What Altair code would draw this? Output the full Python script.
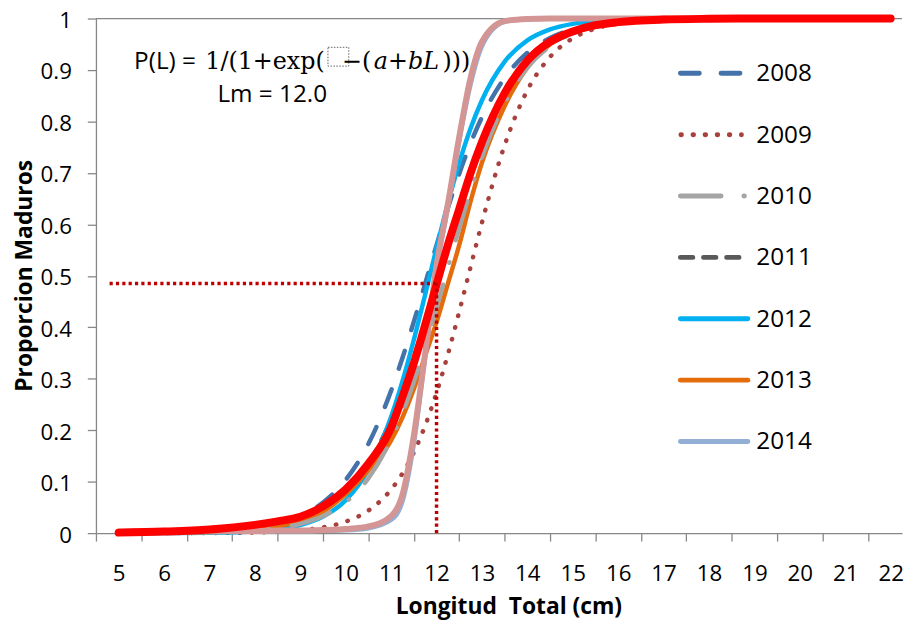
import altair as alt
import pandas as pd

# Longitud total (cm) sample positions
L = [5, 6, 7, 8, 8.5, 9, 9.5, 10, 10.5, 11, 11.25, 11.5, 11.75, 12, 12.25,
     12.5, 12.75, 13, 13.5, 14, 14.5, 15, 15.5, 16, 17, 18, 19, 20, 21, 22]

p2008 = [0.0003, 0.0009, 0.0031, 0.0104, 0.0187, 0.0336, 0.0595, 0.1034, 0.1736, 0.2769,
         0.3407, 0.411, 0.485, 0.5597, 0.6318, 0.6985, 0.7577, 0.8085, 0.8849, 0.9334,
         0.9623, 0.979, 0.9883, 0.9936, 0.998, 0.9994, 0.9998, 1, 1, 1]
p2009 = [0.0000, 0.0001, 0.0003, 0.0014, 0.0028, 0.0056, 0.0112, 0.0223, 0.0439, 0.0847,
         0.1161, 0.1571, 0.2092, 0.2729, 0.3475, 0.4305, 0.5175, 0.6035, 0.754, 0.8606,
         0.9255, 0.9616, 0.9806, 0.9903, 0.9976, 0.9994, 0.9999, 1, 1, 1]
p2010 = [0.0001, 0.0004, 0.0015, 0.0052, 0.0097, 0.018, 0.0331, 0.0601, 0.1067, 0.1824,
         0.2337, 0.2943, 0.363, 0.4378, 0.5156, 0.5927, 0.6654, 0.7311, 0.8355, 0.9047,
         0.9466, 0.9707, 0.9841, 0.9914, 0.9975, 0.9993, 0.9998, 1, 1, 1]
p2011 = [0.0002, 0.0007, 0.0023, 0.0077, 0.0139, 0.0251, 0.0448, 0.0787, 0.1347, 0.221,
         0.2769, 0.3407, 0.411, 0.485, 0.5597, 0.6318, 0.6985, 0.7577, 0.8507, 0.9121,
         0.9498, 0.9718, 0.9843, 0.9913, 0.9974, 0.9992, 0.9998, 1, 1, 1]
p2012 = [0.0001, 0.0002, 0.0009, 0.0038, 0.0077, 0.0158, 0.032, 0.064, 0.124, 0.226,
         0.2953, 0.3758, 0.4638, 0.5542, 0.641, 0.7196, 0.7867, 0.8412, 0.9163, 0.9576,
         0.979, 0.9897, 0.995, 0.9976, 0.9994, 0.9999, 1, 1, 1, 1]
p2013 = [0.0002, 0.0006, 0.002, 0.0065, 0.013, 0.024, 0.042, 0.076, 0.122, 0.18,
         0.225, 0.28, 0.345, 0.41, 0.485, 0.56, 0.645, 0.72, 0.83, 0.905,
         0.95, 0.975, 0.988, 0.994, 0.998, 0.9995, 1, 1, 1, 1]
p2014 = [0.001, 0.001, 0.002, 0.002, 0.003, 0.003, 0.004, 0.005, 0.009, 0.025,
         0.06, 0.17, 0.34, 0.51, 0.63, 0.76, 0.87, 0.945, 0.993, 0.999,
         1, 1, 1, 1, 1, 1, 1, 1, 1, 1]
p_rose = [0.003, 0.003, 0.004, 0.004, 0.005, 0.005, 0.006, 0.008, 0.013, 0.033,
          0.075, 0.19, 0.35, 0.52, 0.64, 0.77, 0.885, 0.955, 0.995, 0.999,
          1, 1, 1, 1, 1, 1, 1, 1, 1, 1]
p_total = [0.001, 0.003, 0.007, 0.016, 0.023, 0.032, 0.052, 0.085, 0.135, 0.205,
           0.265, 0.33, 0.405, 0.483, 0.56, 0.63, 0.70, 0.76, 0.855, 0.918,
           0.955, 0.975, 0.987, 0.993, 0.998, 0.9995, 1, 1, 1, 1]

legend_years = ["2008", "2009", "2010", "2011", "2012", "2013", "2014"]
x_ticks = [4.5, 5.5, 6.5, 7.5, 8.5, 9.5, 10.5, 11.5, 12.5, 13.5, 14.5, 15.5,
           16.5, 17.5, 18.5, 19.5, 20.5, 21.5]
y_ticks = [0, 0.1, 0.2, 0.3, 0.4, 0.5, 0.6, 0.7, 0.8, 0.9, 1]
lm_value = 12.0
lm_prop = 0.485
ref_start = 4.8

FONT = "Open Sans"

styles = {
    "2008": dict(color="#4472AA", w=4.5, dash=[19, 22]),
    "2009": dict(color="#A8413E", w=4.5, dash=[0.5, 11.7]),
    "2010": dict(color="#A5A5A5", w=4.5, dash=[41, 23, 0.5, 23]),
    "2011": dict(color="#595959", w=4.5, dash=[12.5, 10.8]),
    "2012": dict(color="#00B0F0", w=4.5, dash=None),
    "2013": dict(color="#E46C0A", w=4.5, dash=None),
    "2014": dict(color="#93AFD6", w=4.0, dash=None),
    "rose": dict(color="#D49595", w=6.0, dash=None),
    "total": dict(color="#FF0000", w=8.0, dash=None),
}
series = {"2008": p2008, "2009": p2009, "2010": p2010, "2011": p2011,
          "2012": p2012, "2013": p2013, "2014": p2014, "rose": p_rose, "total": p_total}
draw_order = ["2008", "2009", "2011", "2012", "2013", "2010", "2014", "rose", "total"]

AX = "#878787"
x_axis = alt.Axis(values=x_ticks, labelExpr="format(datum.value + 0.5, 'd')",
                  labelOffset=22.9, tickSize=8, tickColor=AX, tickWidth=1.3,
                  domainColor=AX, domainWidth=1.3, grid=False,
                  labelFont=FONT, labelFontSize=22.5, labelColor="black",
                  labelPadding=33, labelBaseline="middle", labelFlush=False,
                  labelOverlap=False,
                  titleFont=FONT, titleFontSize=23, titleFontWeight="bold",
                  titleColor="black", titleX=416, titleY=74, titleAlign="center",
                  titleBaseline="middle")
y_axis = alt.Axis(values=y_ticks, format=".1~f", tickSize=8.7, tickColor=AX,
                  tickWidth=1.3, domainColor=AX, domainWidth=1.3, grid=False,
                  labelFont=FONT, labelFontSize=22.5, labelColor="black",
                  labelPadding=16, labelOffset=2, labelOverlap=False,
                  titleFont=FONT, titleFontSize=23, titleFontWeight="bold",
                  titleColor="black", titleX=-71.7, titleY=259, titleAngle=270,
                  titleAlign="center", titleBaseline="middle")

xs = alt.Scale(domain=[4.5, 22.25], nice=False, zero=False)
ys = alt.Scale(domain=[0, 1], nice=False, zero=False)
X = alt.X("L:Q", scale=xs, axis=x_axis, title="Longitud\u00a0 Total (cm)")
Y = alt.Y("P:Q", scale=ys, axis=y_axis, title="Proporcion Maduros")

layers = []
# top border line at P = 1
layers.append(alt.Chart(pd.DataFrame({"P": [1]})).mark_rule(color=AX, strokeWidth=1.3).encode(y=Y))

for name in draw_order:
    st = styles[name]
    df = pd.DataFrame({"L": L, "P": series[name]})
    kw = dict(color=st["color"], strokeWidth=st["w"], strokeCap="round",
              strokeJoin="round", interpolate="monotone", clip=False)
    if st["dash"]:
        kw["strokeDash"] = st["dash"]
    layers.append(alt.Chart(df).mark_line(**kw).encode(x=X, y=Y))

# dotted reference lines for Lm
ref = pd.DataFrame({"L": [ref_start, lm_value], "L2": [lm_value, lm_value],
                    "P": [lm_prop, 0], "P2": [lm_prop, lm_prop]})
layers.append(alt.Chart(ref).mark_rule(color="#C00000", strokeWidth=3.5,
                                       strokeDash=[3.2, 3.2], strokeCap="butt").encode(
    x=X, x2="L2:Q", y=Y, y2="P2:Q"))

one = pd.DataFrame({"a": [0]})

def txt(s, x, y, font=FONT, size=22, style="normal", baseline="alphabetic", align="left"):
    return alt.Chart(one).mark_text(text=s, font=font, fontSize=size, fontStyle=style,
                                    color="black", align=align, baseline=baseline).encode(
        x=alt.value(x), y=alt.value(y))

# formula annotation (positions relative to plot top-left)
fy = 50.5
layers.append(txt("P(L) = ", 38.5, fy, size=24.5))
layers.append(txt("1/(1+exp(", 110.3, fy, font="DejaVu Serif", size=24))
layers.append(alt.Chart(one).mark_rect(fillOpacity=0, stroke="#606060", strokeWidth=1,
                                       strokeDash=[1.5, 1.5]).encode(
    x=alt.value(234), x2=alt.value(255), y=alt.value(29), y2=alt.value(48)))
layers.append(txt("\u2212(", 248.3, fy, font="DejaVu Serif", size=24))
layers.append(txt("a+bL", 280.3, fy, font="DejaVu Serif", size=24, style="italic"))
layers.append(txt(")))", 349.5, fy, font="DejaVu Serif", size=24))
layers.append(txt("Lm = " + f"{lm_value:.1f}", 122.5, 84.5, size=24.5))

# legend
spans = {"2008": (589.5, 649.5), "2009": (590, 651), "2010": (589.5, 655),
         "2011": (589.5, 649), "2012": (589.5, 657.5), "2013": (589.5, 657.5),
         "2014": (589.5, 657.5)}
for i, yr in enumerate(legend_years):
    st = styles[yr]
    py = 55.2 + i * 61.9
    a, b = spans[yr]
    kw = dict(color=st["color"], strokeWidth=5, strokeCap="round")
    if st["dash"]:
        kw["strokeDash"] = st["dash"]
    layers.append(alt.Chart(one).mark_rule(**kw).encode(
        x=alt.value(a), x2=alt.value(b), y=alt.value(py)))
    layers.append(txt(yr, 666, py + 1, size=24.5, baseline="middle"))

chart = alt.layer(*layers).properties(
    width=813, height=519,
    padding={"left": 88.7, "top": 8, "right": 4, "bottom": 87},
    autosize=alt.AutoSizeParams(type="none"),
).configure_view(stroke=None)

chart.save("out.html", embed_options={"renderer": "svg", "actions": False})
